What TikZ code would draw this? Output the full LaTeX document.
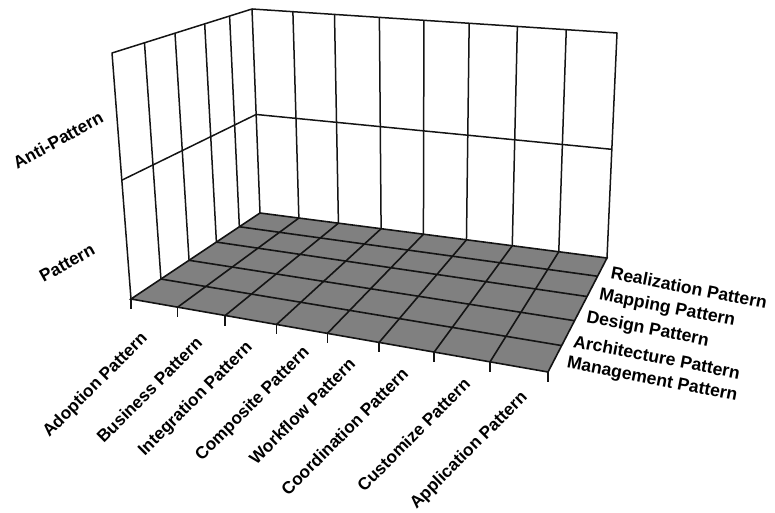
\documentclass[tikz,border=0pt]{standalone}
\usepackage{fontspec}
\setmainfont{Liberation Sans}
\usepackage{tikz}
\usetikzlibrary{calc}
\definecolor{floorfill}{HTML}{808080}
\definecolor{ink}{HTML}{141414}
\tikzset{
  wall/.style={draw=ink, line width=1.5pt, line join=round},
  floorgrid/.style={draw=ink, line width=1.6pt},
  tickmark/.style={draw=ink, line width=1.5pt},
  catlab/.style={font=\bfseries\fontsize{17.2}{20}\selectfont, inner sep=0pt, rotate=45, anchor=east},
  serlab/.style={font=\bfseries\fontsize{17.6}{20}\selectfont, inner sep=0pt, rotate=-11, anchor=west},
  vallab/.style={font=\bfseries\fontsize{17.4}{20}\selectfont, inner sep=0pt, rotate=29}
}

\begin{document}
\begin{tikzpicture}[x=1pt, y=-1pt]
  \useasboundingbox (0,0) rectangle (775,513);

  % corners of the chart box
  \coordinate (FL) at (131,299);
  \coordinate (FR) at (548,372);
  \coordinate (BL) at (260,213);
  \coordinate (BR) at (607,258);
  \coordinate (FT) at (112,53);
  \coordinate (TL) at (252,9);
  \coordinate (TR) at (617,33);

  % floor
  \fill[floorfill] (FL) -- (FR) -- (BR) -- (BL) -- cycle;
  \foreach \cf in {0.112,0.226,0.349,0.471,0.595,0.727,0.861}
    \draw[floorgrid] ($(FL)!\cf!(FR)$) -- ($(BL)!\cf!(BR)$);
  \foreach \rf in {0.232,0.45,0.662,0.84}
    \draw[floorgrid] ($(FL)!\rf!(BL)$) -- ($(FR)!\rf!(BR)$);
  \draw[floorgrid] (FL) -- (FR) -- (BR) -- (BL) -- cycle;

  % left wall
  \foreach \rf in {0.232,0.45,0.662,0.84}
    \draw[wall] ($(FL)!\rf!(BL)$) -- ($(FT)!\rf!(TL)$);
  \draw[wall] (FL) -- (FT) -- (TL) -- (BL);
  \draw[wall] ($(FL)!0.483!(FT)$) -- ($(BL)!0.483!(TL)$) -- ($(BR)!0.483!(TR)$);

  % back wall
  \foreach \cf in {0.112,0.226,0.349,0.471,0.595,0.727,0.861}
    \draw[wall] ($(BL)!\cf!(BR)$) -- ($(TL)!\cf!(TR)$);
  \draw[wall] (TL) -- (TR) -- (BR);

  % ticks on the front edge
  \foreach \cf in {0,0.112,0.226,0.349,0.471,0.595,0.727,0.861,1}
    \draw[tickmark] ($(FL)!\cf!(FR)$) -- ++(0,10);

  % category labels
  \node[catlab] (adopt) at (145,336) {Adoption Pattern};
  \node[catlab] (busin) at (199,340) {Business Pattern};
  \node[catlab] (integ) at (250,345) {Integration Pattern};
  \node[catlab] (compo) at (307,350) {Composite Pattern};
  \node[catlab] (workf) at (352,361) {Workflow Pattern};
  \node[catlab] (coord) at (405,371) {Coordination Pattern};
  \node[catlab] (custo) at (467,381) {Customize Pattern};
  \node[catlab] (appli) at (525,395) {Application Pattern};

  % series labels
  \node[serlab] (realiz) at ($(BR)!0.1!(FR)+(10,3)$) {Realization Pattern};
  \node[serlab] (mapp)   at ($(BR)!0.3!(FR)+(10,3)$) {Mapping Pattern};
  \node[serlab] (desig)  at ($(BR)!0.5!(FR)+(9,3)$) {Design Pattern};
  \node[serlab] (archi)  at ($(BR)!0.7!(FR)+(8,3)$) {Architecture Pattern};
  \node[serlab] (manag)  at ($(BR)!0.9!(FR)+(13,3)$) {Management Pattern};

  % value labels
  \node[vallab] (anti) at (58,140) {Anti-Pattern};
  \node[vallab] (patt) at (67,263) {Pattern};
\end{tikzpicture}
\end{document}
